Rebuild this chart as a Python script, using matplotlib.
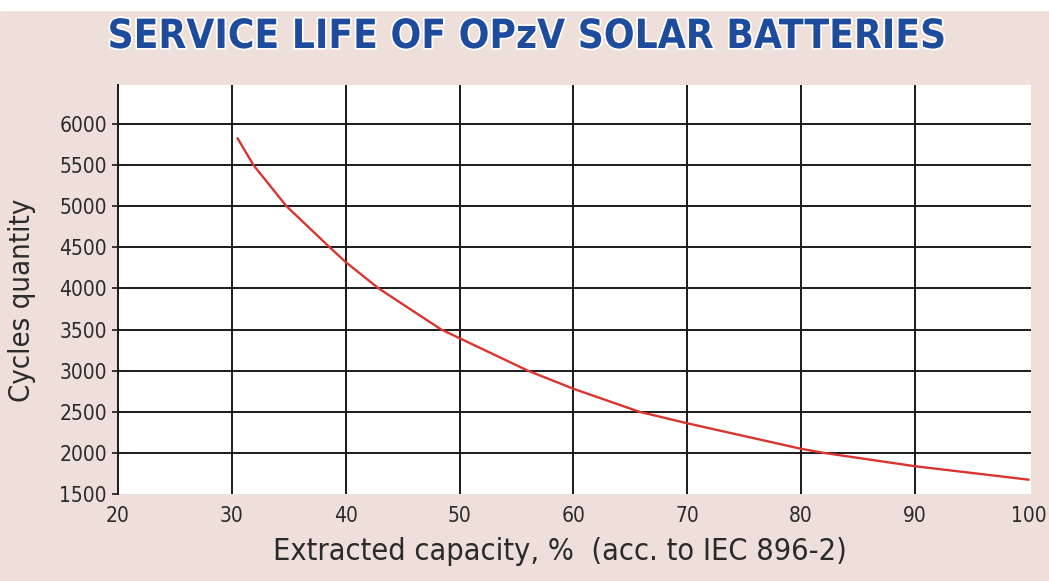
import matplotlib
matplotlib.use("Agg")
import matplotlib.pyplot as plt
import matplotlib.patheffects as pe

# Data
capacity_pct = [30.5, 31.9, 34.8, 38.6, 40.0, 42.9, 48.4, 50.0, 56.0, 60.0, 65.8, 70.0, 80.0, 82.0, 90.0, 100.0]
cycles = [5827, 5500, 5000, 4500, 4320, 4000, 3500, 3395, 3000, 2780, 2500, 2360, 2050, 2000, 1838, 1674]

x_ticks = [20, 30, 40, 50, 60, 70, 80, 90, 100]
y_ticks = [1500, 2000, 2500, 3000, 3500, 4000, 4500, 5000, 5500, 6000]

title = "SERVICE LIFE OF OPzV SOLAR BATTERIES"
xlabel = "Extracted capacity, %  (acc. to IEC 896-2)"
ylabel = "Cycles quantity"

W, H = 1049, 581
fig = plt.figure(figsize=(W / 100, H / 100), dpi=100)
fig.patch.set_facecolor("#eedfda")

# white strip at very top
fig.add_artist(plt.Rectangle((0, 1 - 10 / H), 1, 10 / H, transform=fig.transFigure,
                             color="white", zorder=0))

left, right, top, bottom = 118, 1031, 85, 494
ax = fig.add_axes([left / W, 1 - bottom / H, (right - left) / W, (bottom - top) / H])
ax.set_facecolor("white")

ax.set_xlim(20, 100.2)
ax.set_ylim(1500, 6474)

for s in ["top", "right", "bottom"]:
    ax.spines[s].set_visible(False)
ax.spines["left"].set_color("#1a1a1a")
ax.spines["left"].set_linewidth(1.4)

grid_kw = dict(color="#1a1a1a", lw=1.4, zorder=1)
for x in x_ticks[1:-1]:
    ax.axvline(x, **grid_kw)
for y in y_ticks[1:]:
    ax.axhline(y, **grid_kw)

ax.plot(capacity_pct, cycles, color="#d8352f", lw=1.7, zorder=3,
        solid_capstyle="round", solid_joinstyle="round")

fontkw = dict(family="DejaVu Sans", stretch="condensed")
ax.set_xticks(x_ticks)
ax.set_yticks(y_ticks)
ax.set_xticklabels([str(v) for v in x_ticks], color="#2a2a2a", fontsize=15, **fontkw)
ax.set_yticklabels([str(v) for v in y_ticks], color="#2a2a2a", fontsize=15, **fontkw)
ax.tick_params(axis="x", length=0, pad=9)
ax.tick_params(axis="y", length=4, width=1.2, color="#1a1a1a", pad=4)

ax.set_xlabel(xlabel, fontsize=22, color="#2a2a2a", va="center", **fontkw)
ax.xaxis.set_label_coords((560 - left) / (right - left), (bottom - 551) / (bottom - top))
ax.set_ylabel(ylabel, fontsize=21, color="#2a2a2a", va="center", **fontkw)
ax.yaxis.set_label_coords((22 - left) / (right - left), (bottom - 300) / (bottom - top))

fig.text(527 / W, 1 - 37 / H, title, ha="center", va="center", fontsize=29,
         fontweight="heavy", color="#1f4b9d", family="DejaVu Sans", stretch="condensed",
         path_effects=[pe.withStroke(linewidth=2.5, foreground="white")])

fig.savefig("out.png", dpi=100, facecolor=fig.get_facecolor())
